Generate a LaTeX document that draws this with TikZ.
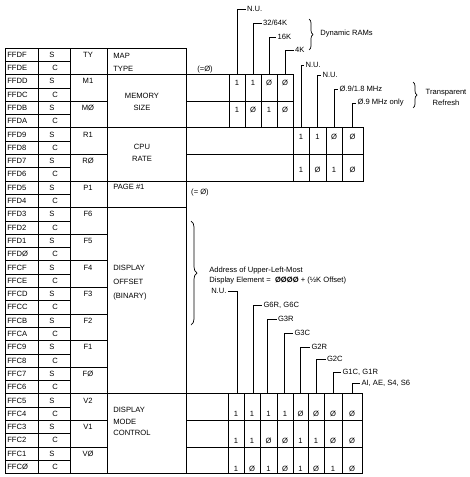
\documentclass[tikz,border=0pt]{standalone}
\usepackage{fontspec}
\setmainfont{Liberation Sans}
\usetikzlibrary{decorations.pathreplacing}
\begin{document}
\begin{tikzpicture}[x=1pt,y=-1pt,line width=0.7pt,
  every node/.style={font=\fontsize{7.6}{9}\selectfont,inner sep=0pt},
  lab/.style={anchor=west,inner sep=1.2pt},
  labl/.style={anchor=east,inner sep=1.2pt},
  txt/.style={anchor=west},
  bracefig/.style={decorate,decoration={brace,amplitude=#1}}]
\useasboundingbox (0,0) rectangle (470,477);
% ---------- left table ----------
\draw (5,48) rectangle (186,473.6);
\foreach \x in {38,70,107} \draw (\x,48) -- (\x,473.6);
\foreach \i in {1,...,31} \draw (5,{48+13.3*\i}) -- (70,{48+13.3*\i});
\foreach \i in {2,4,...,30} \draw (70,{48+13.3*\i}) -- (107,{48+13.3*\i});
\foreach \i in {2,6,10,12,26} \draw (107,{48+13.3*\i}) -- (186,{48+13.3*\i});
\foreach \a [count=\i from 0] in {FFDF,FFDE,FFDD,FFDC,FFDB,FFDA,FFD9,FFD8,FFD7,FFD6,FFD5,FFD4,FFD3,FFD2,FFD1,FFDØ,FFCF,FFCE,FFCD,FFCC,FFCB,FFCA,FFC9,FFC8,FFC7,FFC6,FFC5,FFC4,FFC3,FFC2,FFC1,FFCØ}
  \node[txt] (addr\i) at (7,{48+13.3*\i+6.65}) {\a};
\foreach \i in {0,2,...,30} \node (s\i) at (52,{48+13.3*\i+6.65}) {S};
\foreach \i in {1,3,...,31} \node (c\i) at (55,{48+13.3*\i+6.65}) {C};
\foreach \b [count=\k from 0] in {TY,M1,MØ,R1,RØ,P1,F6,F5,F4,F3,F2,F1,FØ,V2,V1,VØ}
  \node (bit\k) at (88,{48+13.3*2*\k+6.65}) {\b};
\node[txt] (map) at (113,56) {MAP};
\node[txt] (type) at (113,69) {TYPE};
\node (mem) at (142,96) {MEMORY};
\node (size) at (142,108) {SIZE};
\node (cpu) at (142,147) {CPU};
\node (rate) at (142,159) {RATE};
\node[txt] (page) at (113,187) {PAGE \#1};
\node[txt] (dsp) at (113,268) {DISPLAY};
\node[txt] (off) at (113,282) {OFFSET};
\node[txt] (bin) at (113,297) {(BINARY)};
\node[txt] (dsp2) at (113,410) {DISPLAY};
\node[txt] (mode) at (113,422) {MODE};
\node[txt] (ctl) at (113,433) {CONTROL};
% ---------- memory size box ----------
\draw (186,74.6) -- (229,74.6) (186,101.2) -- (229,101.2);
\draw (229,74.6) rectangle (293,127.8);
\draw (229,101.2) -- (293,101.2);
\foreach \x in {245,261,277} \draw (\x,74.6) -- (\x,127.8);
\foreach \v [count=\k] in {1,1,Ø,Ø} \node (ma\k) at ({229+16*\k-8},83) {\v};
\foreach \v [count=\k] in {1,Ø,1,Ø} \node (mb\k) at ({229+16*\k-8},110) {\v};
\node (eq1) at (205,70) {(=Ø)};
% ---------- CPU rate box ----------
\draw (186,127.8) -- (363,127.8);
\draw (186,154.4) -- (293,154.4);
\draw (186,181) -- (363,181);
\draw (293,127.8) rectangle (363,181);
\draw (293,154.4) -- (363,154.4);
\foreach \x in {309,326,342} \draw (\x,127.8) -- (\x,181);
\foreach \v/\x [count=\k] in {1/301,1/317.5,Ø/334,Ø/352.5} \node (ca\k) at (\x,137) {\v};
\foreach \v/\x [count=\k] in {1/301,Ø/317.5,1/334,Ø/352.5} \node (cb\k) at (\x,170) {\v};
% ---------- memory pointers ----------
\coordinate (pm1) at (237,74.6);
\coordinate (pm2) at (253,74.6);
\coordinate (pm3) at (269,74.6);
\coordinate (pm4) at (285,74.6);
\node[lab] (lm1) at (245.5,9) {N.U.};
\node[lab] (lm2) at (261.5,23) {32/64K};
\node[lab] (lm3) at (276,37) {16K};
\node[lab] (lm4) at (293.5,50) {4K};
\foreach \k in {1,...,4} \draw (pm\k) |- (lm\k.west);
\draw[bracefig=4pt] (309,19) -- (309,50);
\node[txt] (dyn) at (320,34) {Dynamic RAMs};
% ---------- CPU pointers ----------
\coordinate (pc1) at (301,127.8);
\coordinate (pc2) at (317.5,127.8);
\coordinate (pc3) at (334,127.8);
\coordinate (pc4) at (352.5,127.8);
\node[lab] (lc1) at (304,65) {N.U.};
\node[lab] (lc2) at (321,75) {N.U.};
\node[lab] (lc3) at (338,89) {Ø.9/1.8 MHz};
\node[lab] (lc4) at (356,103) {Ø.9 MHz only};
\foreach \k in {1,...,4} \draw (pc\k) |- (lc\k.west);
\draw[bracefig=4pt] (413,82) -- (413,108);
\node (tr1) at (446,93) {Transparent};
\node (tr2) at (446,102.5) {Refresh};
% ---------- display offset ----------
\node (eq2) at (200,193) {(= Ø)};
\draw[bracefig=6pt] (191,221) -- (191,325);
\node[txt] (ad1) at (209,271) {Address of Upper-Left-Most};
\node[txt] (ad2) at (209,280.5) {Display Element =\ \ {\bfseries ØØØØ} + (½K Offset)};
% ---------- display mode box ----------
\draw (186,393.8) -- (228,393.8) (186,420.4) -- (228,420.4) (186,447) -- (228,447);
\draw (186,473.6) -- (228,473.6);
\draw (228,393.8) rectangle (362,473.6);
\draw (228,420.4) -- (362,420.4) (228,447) -- (362,447);
\foreach \x in {244,260,277,293,308,324,342} \draw (\x,393.8) -- (\x,473.6);
\foreach \v/\x [count=\k] in {1/236,1/252,1/268.5,1/285,Ø/300.5,Ø/316,Ø/333,Ø/352}
  \node (da\k) at (\x,414) {\v};
\foreach \v/\x [count=\k] in {1/236,1/252,Ø/268.5,Ø/285,1/300.5,1/316,Ø/333,Ø/352}
  \node (db\k) at (\x,441) {\v};
\foreach \v/\x [count=\k] in {1/236,Ø/252,1/268.5,Ø/285,1/300.5,Ø/316,1/333,Ø/352}
  \node (dc\k) at (\x,469) {\v};
% ---------- display pointers ----------
\foreach \x [count=\k] in {237,253,267.5,284,300.5,316,333,352}
  \coordinate (pd\k) at (\x,393.8);
\node[labl] (ld1) at (228,291) {N.U.};
\node[lab] (ld2) at (262,305) {G6R, G6C};
\node[lab] (ld3) at (276.5,319) {G3R};
\node[lab] (ld4) at (293,333) {G3C};
\node[lab] (ld5) at (310,347) {G2R};
\node[lab] (ld6) at (325.5,359) {G2C};
\node[lab] (ld7) at (341,372) {G1C, G1R};
\node[lab] (ld8) at (360,383) {AI, AE, S4, S6};
\draw (pd1) |- (ld1.east);
\foreach \k in {2,...,8} \draw (pd\k) |- (ld\k.west);
\end{tikzpicture}
\end{document}
